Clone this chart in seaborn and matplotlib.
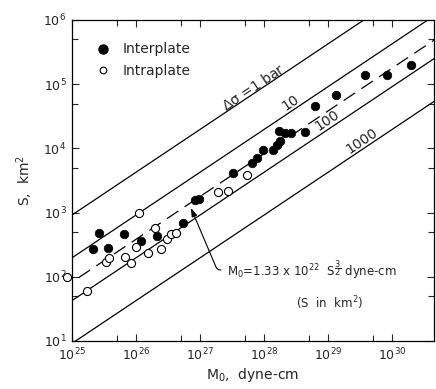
import numpy as np
import pandas as pd
import matplotlib
matplotlib.use("Agg")
import matplotlib.pyplot as plt
import matplotlib.ticker as mticker
from matplotlib.lines import Line2D
import seaborn as sns

# seismic moment (dyne-cm) and fault area (km^2)
inter_m0 = [2.15e25, 2.67e25, 3.69e25, 6.56e25, 1.18e26, 2.15e26, 5.37e26,
            8.36e26, 9.75e26, 3.31e27, 6.43e27, 7.7e27, 9.55e27, 1.40e28,
            1.58e28, 1.80e28, 1.73e28, 2.13e28, 2.64e28, 4.37e28, 6.26e28,
            1.33e29, 3.83e29, 8.27e29, 1.96e30]
inter_s = [268, 477, 284, 459, 361, 432, 697,
           1570, 1610, 4090, 5900, 7100, 9440, 9600,
           1.12e4, 1.30e4, 1.89e4, 1.72e4, 1.72e4, 1.80e4, 4.57e4,
           6.67e4, 1.41e5, 1.41e5, 1.97e5]

intra_m0 = [8.3e24, 1.73e25, 3.4e25, 3.83e25, 6.73e25, 8.36e25, 1.0e26,
            1.11e26, 1.52e26, 1.98e26, 2.46e26, 3.02e26, 3.47e26, 4.22e26,
            1.93e27, 2.77e27, 5.37e27]
intra_s = [100, 61, 172, 199, 206, 162, 288,
           1000, 237, 582, 268, 384, 464, 476,
           2070, 2170, 3855]

# M0 = c * dsigma * S^(3/2)
stress_drops = [1, 10, 100, 1000]
stress_labels = [r"$\Delta\sigma$ =1 bar", "10", "100", "1000"]
label_m0 = [6.8e27, 2.6e28, 9.6e28, 3.4e29]
crack_const = 3.6e20
fit_const = 1.33e22

sns.set_style("ticks")
plt.rcParams['font.family'] = ['DejaVu Sans']
plt.rcParams['mathtext.default'] = 'regular'

fig = plt.figure(figsize=(4.36, 3.89), dpi=100)
ax = fig.add_axes([72/436, 48/389, 362/436, 321/389])
ax.set_xscale('log')
ax.set_yscale('log')
ax.set_xlim(1e25, 4.5e30)
ax.set_ylim(1e1, 1e6)

m = np.logspace(24, 31, 200)
for ds in stress_drops:
    ax.plot(m, (m / (crack_const * ds)) ** (2 / 3), color='black', lw=0.9)
ax.plot(m, (m / fit_const) ** (2 / 3), color='black', lw=0.9, dashes=(11, 6))

df_inter = pd.DataFrame({'M0': inter_m0, 'S': inter_s})
df_intra = pd.DataFrame({'M0': intra_m0, 'S': intra_s})
sns.scatterplot(data=df_inter, x='M0', y='S', ax=ax, color='black',
                edgecolor='black', s=38, linewidth=0.5, zorder=3, legend=False)
sns.scatterplot(data=df_intra, x='M0', y='S', ax=ax, color='white',
                edgecolor='black', s=34, linewidth=0.8, zorder=3,
                clip_on=False, legend=False)

# rotation of the stress-drop lines on screen
p0 = ax.transData.transform((1e26, (1e26 / crack_const) ** (2 / 3)))
p1 = ax.transData.transform((1e29, (1e29 / crack_const) ** (2 / 3)))
angle = np.degrees(np.arctan2(p1[1] - p0[1], p1[0] - p0[0]))

offsets = [4.5, 6.5, 7.0, 6.5]
for ds, lab, mx, off in zip(stress_drops, stress_labels, label_m0, offsets):
    sy = (mx / (crack_const * ds)) ** (2 / 3)
    ax.annotate(lab, xy=(mx, sy), xytext=(0, off), textcoords='offset points',
                rotation=angle, ha='center', va='center',
                rotation_mode='anchor', fontsize=10)

ax.annotate(r"M$_0$=1.33 x 10$^{22}$  S$^{\dfrac{3}{2}}$ dyne-cm",
            xy=(7.2e26, 1180), xytext=(26, -44.6), textcoords='offset points',
            ha='left', va='center', fontsize=8.5,
            arrowprops=dict(arrowstyle='-|>,head_length=0.6,head_width=0.2',
                            color='black', lw=0.8, shrinkA=2, shrinkB=0,
                            relpos=(0, 0.5),
                            connectionstyle='angle,angleA=0,angleB=-67,rad=3'))
ax.text(0.713, 0.118, r"(S  in  km$^2$)", transform=ax.transAxes,
        ha='center', va='center', fontsize=8.5)

ax.xaxis.set_major_locator(mticker.LogLocator(base=10, numticks=10))
ax.yaxis.set_major_locator(mticker.LogLocator(base=10, numticks=10))
for axis in (ax.xaxis, ax.yaxis):
    axis.set_minor_locator(mticker.LogLocator(base=10, subs=[5], numticks=10))
    axis.set_minor_formatter(mticker.NullFormatter())
ax.tick_params(which='major', direction='in', length=5, width=0.8,
               top=True, right=True, labelsize=9, pad=4)
ax.tick_params(which='minor', direction='in', length=4, width=0.8,
               top=True, right=True)
for sp in ax.spines.values():
    sp.set_linewidth(0.9)
    sp.set_color('black')

ax.set_xlabel(r"M$_0$,  dyne-cm", fontsize=10, labelpad=2)
ax.set_ylabel(r"S,  km$^2$", fontsize=10, labelpad=6)

handles = [Line2D([], [], ls='none', marker='o', color='black', markersize=6.5),
           Line2D([], [], ls='none', marker='o', markerfacecolor='white',
                  markeredgecolor='black', markeredgewidth=0.8, markersize=4.8)]
ax.legend(handles, ["Interplate", "Intraplate"], loc='upper left',
          bbox_to_anchor=(0.066, 0.93), frameon=False, borderpad=0,
          borderaxespad=0, handlelength=1.0, handletextpad=0.94,
          labelspacing=0.55, fontsize=10)

fig.savefig("out.png", dpi=100)
